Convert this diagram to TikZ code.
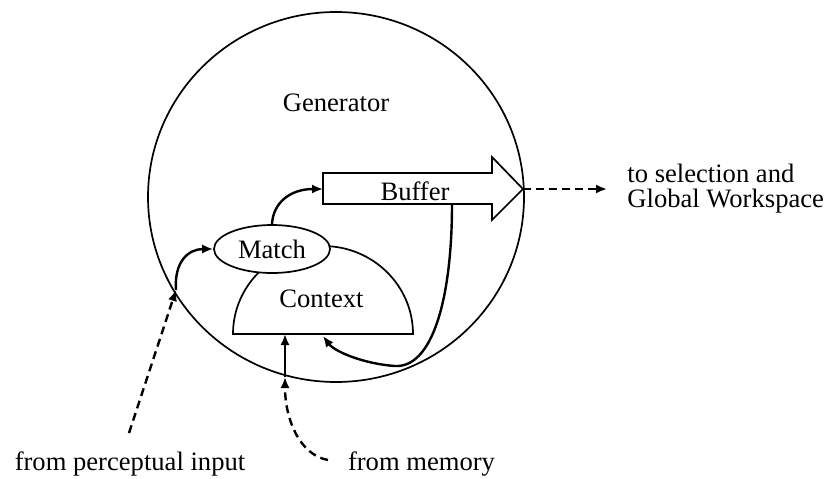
\documentclass[tikz,border=0pt]{standalone}
\usepackage{fontspec}
\setmainfont{Liberation Serif}
\usetikzlibrary{arrows.meta,shapes.geometric}
\begin{document}
\begin{tikzpicture}[x=0.5pt,y=-0.5pt,
  shapeline/.style={line width=0.85pt},
  conn/.style={line width=1.2pt,-{Latex[length=5.5pt,width=4.6pt]}},
  dashconn/.style={conn,dash pattern=on 4pt off 2.5pt},
  lbl/.style={font=\fontsize{13.3}{12.2}\selectfont,inner sep=0pt,anchor=base},
  ]
\useasboundingbox (0,0) rectangle (824,478);

% generator boundary
\draw[shapeline] (336,197) ellipse [x radius=94pt,y radius=92.5pt];
\node[lbl] (gen) at (336,111) {Generator};

% buffer arrow
\draw[shapeline,fill=white] (323,173) -- (492,173) -- (492,157) -- (523,189)
  -- (492,220) -- (492,204) -- (323,204) -- cycle;
\coordinate (bufL) at (323,189);
\coordinate (bufTip) at (523,189);
\coordinate (bufOut) at (452,204);
\node[lbl] (buf) at (415,200) {Buffer};

% context half disc
\draw[shapeline,fill=white] (233,334) arc[start angle=180,end angle=0,x radius=45pt,y radius=44pt] -- cycle;
\coordinate (ctxA) at (285,334);
\coordinate (ctxB) at (323,336);
\node[lbl] (ctx) at (321.5,307) {Context};

% match ellipse
\node[ellipse,shapeline,draw,fill=white,minimum width=58pt,minimum height=24pt,inner sep=0pt,
  font=\fontsize{13.3}{11}\selectfont] (match) at (272,249) {Match};

% connectors
\coordinate (percIn) at (129,433);
\coordinate (percX) at (176,290);
\draw[dashconn] (percIn) -- (percX);
\draw[conn] (percX) .. controls (174,262) and (188,249) .. (match.west);
\draw[conn] (match.north) .. controls (273,203) and (290,189) .. (bufL);

\coordinate (memIn) at (328,460);
\coordinate (memX) at (285,377);
\draw[dashconn] (memIn) .. controls (300,455) and (285,420) .. (memX);
\draw[conn] (memX) -- (ctxA);

\draw[conn] (bufOut) .. controls (452,300) and (432,368) .. (395,366)
  .. controls (365,364) and (335,352) .. (ctxB);

\coordinate (outEnd) at (607,189);
\draw[dashconn] (bufTip) -- (outEnd);

% labels
\node[lbl,anchor=base west,align=left] (sel) at (627,207) {to selection and\\Global Workspace};
\node[lbl] (perc) at (130,470) {from perceptual input};
\node[lbl] (mem) at (421.5,470) {from memory};
\end{tikzpicture}
\end{document}
